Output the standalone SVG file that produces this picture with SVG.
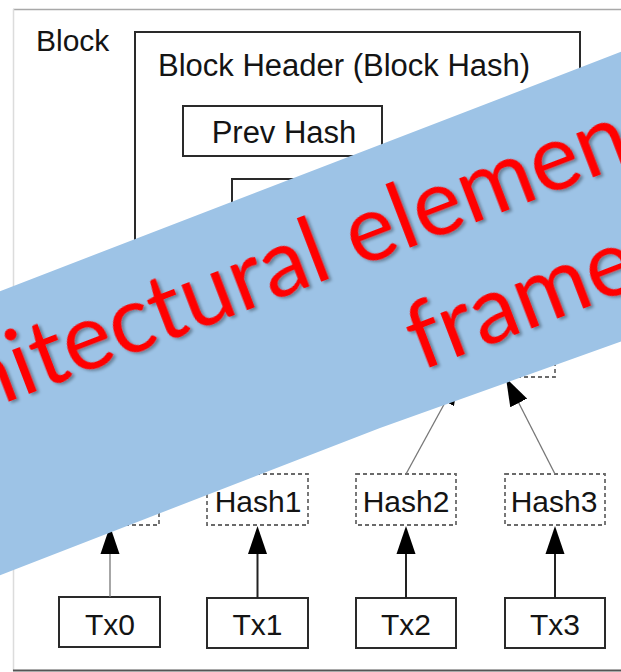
<svg xmlns="http://www.w3.org/2000/svg" width="621" height="672" viewBox="0 0 621 672">
<defs>
<style>
.lbl{font-family:"Liberation Sans",Arial,sans-serif;font-size:30px;fill:#141414}
.big{font-size:31px}
.mid{text-anchor:middle}
.box{fill:#fff;stroke:#2a2a2a;stroke-width:2}
.dash{fill:none;stroke:#6a6a6a;stroke-width:1.8;stroke-dasharray:4 3}
.edge{fill:none;stroke:#222;stroke-width:2}
.thin{fill:none;stroke:#777;stroke-width:1.3}
.ban{font-family:Lato,"Open Sans",sans-serif;font-size:93px;fill:#ff0000}
</style>
<marker id="ah2" viewBox="0 0 28 19" refX="28" refY="9.5" markerWidth="28" markerHeight="19" markerUnits="userSpaceOnUse" orient="auto">
<path d="M0 0 L28 9.5 L0 19 Z" fill="#000"/>
</marker>
<filter id="sh" x="-10%" y="-10%" width="120%" height="130%">
<feDropShadow dx="2" dy="2.5" stdDeviation="1.5" flood-color="#000" flood-opacity="0.35"/>
</filter>
</defs>
<rect width="621" height="672" fill="#fff"/>
<g id="block-frame">
<line x1="13" y1="9.5" x2="621" y2="9.5" stroke="#a8a8a8" stroke-width="1.5"/>
<line x1="13.5" y1="9" x2="13.5" y2="671" stroke="#dcdcdc" stroke-width="1.5"/>
<line x1="13" y1="670.5" x2="621" y2="670.5" stroke="#555" stroke-width="2"/>
<text class="lbl" x="36" y="51">Block</text>
</g>
<g id="block-header">
<rect class="box" x="135" y="32" width="445" height="260" fill="none"/>
<text class="lbl big" x="158" y="76">Block Header (Block Hash)</text>
</g>
<g id="prev-hash">
<rect class="box" x="183" y="106" width="199" height="50"/>
<text class="lbl big mid" x="284" y="143">Prev Hash</text>
</g>
<g id="root-hash">
<rect class="box" x="232" y="179" width="200" height="50"/>
</g>
<g id="hash23">
<rect class="dash" x="430" y="326" width="125" height="51"/>
</g>
<g id="hash0"><rect class="dash" x="58" y="474" width="101" height="51"/></g>
<g id="hash1"><rect class="dash" x="207" y="474" width="101" height="51"/><text class="lbl mid" x="258" y="512">Hash1</text></g>
<g id="hash2"><rect class="dash" x="356" y="474" width="100" height="51"/><text class="lbl mid" x="406" y="512">Hash2</text></g>
<g id="hash3"><rect class="dash" x="505" y="474" width="100" height="51"/><text class="lbl mid" x="554" y="512">Hash3</text></g>
<g id="tx0"><rect class="box" x="59" y="597" width="101" height="50"/><text class="lbl mid" x="110" y="635">Tx0</text></g>
<g id="tx1"><rect class="box" x="207" y="598" width="101" height="50"/><text class="lbl mid" x="257.5" y="635">Tx1</text></g>
<g id="tx2"><rect class="box" x="356" y="598" width="100" height="50"/><text class="lbl mid" x="406" y="635">Tx2</text></g>
<g id="tx3"><rect class="box" x="505" y="598" width="100" height="50"/><text class="lbl mid" x="555" y="635">Tx3</text></g>
<g id="connectors">
<line class="thin" x1="110" y1="597" x2="110" y2="553"/>
<path d="M110 526 L119.5 554 L100.5 554 Z" fill="#000"/>
<line class="edge" x1="257.5" y1="598" x2="257.5" y2="553"/>
<path d="M257.5 526 L267 554 L248 554 Z" fill="#000"/>
<line class="edge" x1="406" y1="598" x2="406" y2="553"/>
<path d="M406 526 L415.5 554 L396.5 554 Z" fill="#000"/>
<line class="edge" x1="555" y1="598" x2="555" y2="553"/>
<path d="M555 526 L564.5 554 L545.5 554 Z" fill="#000"/>
<line class="thin" x1="406" y1="474" x2="459" y2="377" marker-end="url(#ah2)"/>
<line class="thin" x1="555" y1="474" x2="506" y2="378" marker-end="url(#ah2)"/>
</g>
<g id="banner">
<polygon points="-10,295 631,48 631,338 380,428 -10,579" fill="#9dc3e6"/>
<g transform="translate(0,405) rotate(-21)" filter="url(#sh)">
<text class="ban" x="-28" y="0">hitectural elemen</text>
<text class="ban" x="405" y="119">frame</text>
</g>
</g>
</svg>
